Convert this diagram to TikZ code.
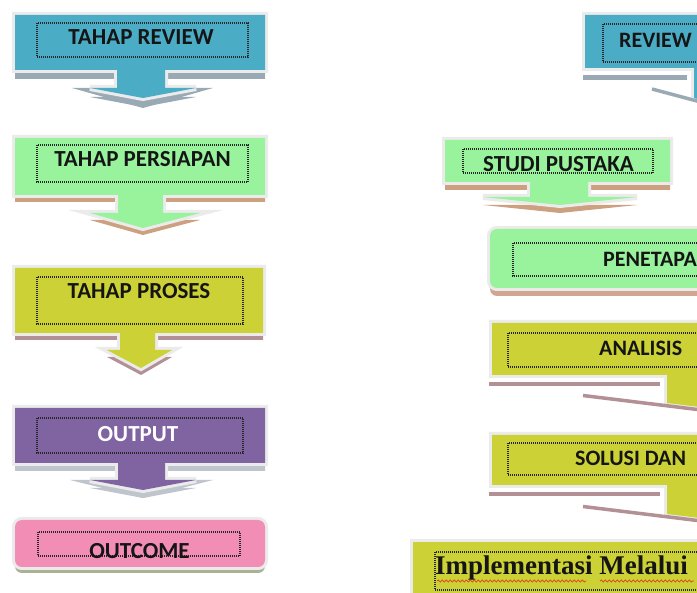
\documentclass[tikz,border=0pt]{standalone}
\usepackage{fontspec}
\setmainfont{Carlito}
\newfontfamily\implfont{Liberation Serif}
\usetikzlibrary{decorations.pathmorphing}

\definecolor{bluec}{HTML}{4BACC6}
\definecolor{bluesh}{HTML}{9AAAB5}
\definecolor{greenc}{HTML}{99F39C}
\definecolor{tansh}{HTML}{CDA07F}
\definecolor{pinktan}{HTML}{D2A592}
\definecolor{yelc}{HTML}{CCD236}
\definecolor{mauvesh}{HTML}{B38F96}
\definecolor{purc}{HTML}{8064A2}
\definecolor{graysh}{HTML}{BFC5CD}
\definecolor{pinkc}{HTML}{F28DB5}
\definecolor{olivesh}{HTML}{A9B294}
\definecolor{haloc}{HTML}{EBEBEB}
\definecolor{txt}{HTML}{151515}
\definecolor{squig}{HTML}{E0501E}

\tikzset{
  halo/.style={draw=haloc, line width=6pt, line join=miter},
  dotbox/.style={draw=black!85, line width=1.1pt, dash pattern=on 1pt off 1pt},
  lbl/.style={inner sep=0pt, text=txt, font=\bfseries\fontsize{23}{27}\selectfont},
  rlbl/.style={inner sep=0pt, text=txt, font=\bfseries\fontsize{22}{26}\selectfont},
}
\newcommand{\layered}[5][]{%
  \fill[#4,shift={(0,#5)},#1] #2;
  \draw[halo,#1] #2;
  \fill[#3,#1] #2;}
\newcommand{\sidecall}[5]{%
  \draw[halo] #1;
  \draw[#3,line width=3.5pt] #4 -- #5;
  \fill[#2] #1;}

\begin{document}
\begin{tikzpicture}[x=1pt,y=-1pt]
\useasboundingbox (0,0) rectangle (697,593);
\clip (0,0) rectangle (697,593);
\fill[white] (0,0) rectangle (697,593);

% ---------------- left column ----------------
\fill[bluesh] (72,88) -- (213,88) -- (143,108) -- cycle;
\layered{(15,15) -- (265,15) -- (265,70) -- (165,70) -- (165,88) -- (196,88) -- (143,98) -- (90,88) -- (117,88) -- (117,70) -- (15,70) -- cycle}{bluec}{bluesh}{9}
\draw[dotbox] (37,23) rectangle (248,57);
\node[lbl,anchor=base] (t1) at (141,45) {TAHAP REVIEW};

\layered{(15,138) -- (265,138) -- (265,195) -- (163,195) -- (163,213) -- (200,213) -- (143,228) -- (90,213) -- (118,213) -- (118,195) -- (15,195) -- cycle}{greenc}{tansh}{7}
\draw[dotbox] (37,145) rectangle (248,182);
\node[lbl,anchor=base] (t2) at (142.5,167) {TAHAP PERSIAPAN};

\layered{(15,268) -- (263,268) -- (263,333) -- (155,333) -- (155,350) -- (172,350) -- (141,368) -- (107,350) -- (120,350) -- (120,333) -- (15,333) -- cycle}{yelc}{mauvesh}{7}
\draw[dotbox] (37,277) rectangle (243,324);
\node[lbl,anchor=base] (t3) at (139,299) {TAHAP PROSES};

\fill[graysh] (70,480) -- (213,480) -- (143,498) -- cycle;
\layered{(15,408) -- (265,408) -- (265,463) -- (165,463) -- (165,480) -- (196,480) -- (143,490) -- (90,480) -- (118,480) -- (118,463) -- (15,463) -- cycle}{purc}{graysh}{8}
\draw[dotbox] (37,418) rectangle (243,453);
\node[lbl,anchor=base,text=white] (t4) at (138,442) {OUTPUT};

\layered[rounded corners=7pt]{(15,520) rectangle (265,567)}{pinkc}{olivesh}{6}
\draw[dotbox] (38,532) rectangle (240,556);
\node[lbl,anchor=base] (t5) at (139.5,559) {OUTCOME};

% ---------------- right column ----------------
\fill[bluesh] (583,75) rectangle (687,80);
\sidecall{(585,15) -- (720,15) -- (720,105) -- (694,98) -- (694,68) -- (585,68) -- cycle}{bluec}{bluesh}{(652,89)}{(740,112.5)}
\draw[dotbox] (603,24) rectangle (720,62);
\node[rlbl,anchor=base west] (r1) at (619,48) {REVIEW};

\layered{(445,140) -- (670,140) -- (670,182) -- (588,182) -- (588,197) -- (637,197) -- (560,205) -- (483,197) -- (530,197) -- (530,182) -- (445,182) -- cycle}{greenc}{tansh}{8}
\draw[dotbox] (463,149) rectangle (653,173);
\node[lbl,anchor=base] (r2) at (558.5,172) {STUDI PUSTAKA};

\layered[rounded corners=7pt]{(490,229) rectangle (730,288)}{greenc}{pinktan}{8}
\draw[dotbox] (513,243) rectangle (720,276);
\node[rlbl,anchor=base west] (r3) at (603,267) {PENETAPA};

\fill[mauvesh] (489,382) rectangle (660,386);
\sidecall{(492,323) -- (720,323) -- (720,409.5) -- (667,403) -- (667,375) -- (492,375) -- cycle}{yelc}{mauvesh}{(583,395.5)}{(730,413.5)}
\draw[dotbox] (508,333) rectangle (720,367);
\node[rlbl,anchor=base west] (r4) at (599,356) {ANALISIS};

\fill[mauvesh] (489,492) rectangle (660,496);
\sidecall{(492,435) -- (720,435) -- (720,520.5) -- (667,514) -- (667,485) -- (492,485) -- cycle}{yelc}{mauvesh}{(583,506.5)}{(730,524.5)}
\draw[dotbox] (508,443) rectangle (720,475);
\node[rlbl,anchor=base west] (r5) at (575,466) {SOLUSI DAN};

\draw[halo] (413,542) rectangle (720,620);
\fill[yelc] (413,542) rectangle (720,620);
\draw[dotbox] (435,552) rectangle (720,590);
\node[inner sep=0pt, anchor=base west, text=txt, font=\implfont\bfseries\fontsize{27}{30}\selectfont] (impl) at (435,575) {Implementasi Melalui};
\draw[squig, line width=0.9pt, decorate, decoration={snake, amplitude=1pt, segment length=4pt}] (437,581) -- (586,581);
\draw[squig, line width=0.9pt, decorate, decoration={snake, amplitude=1pt, segment length=4pt}] (600,581) -- (694,581);
\end{tikzpicture}
\end{document}
